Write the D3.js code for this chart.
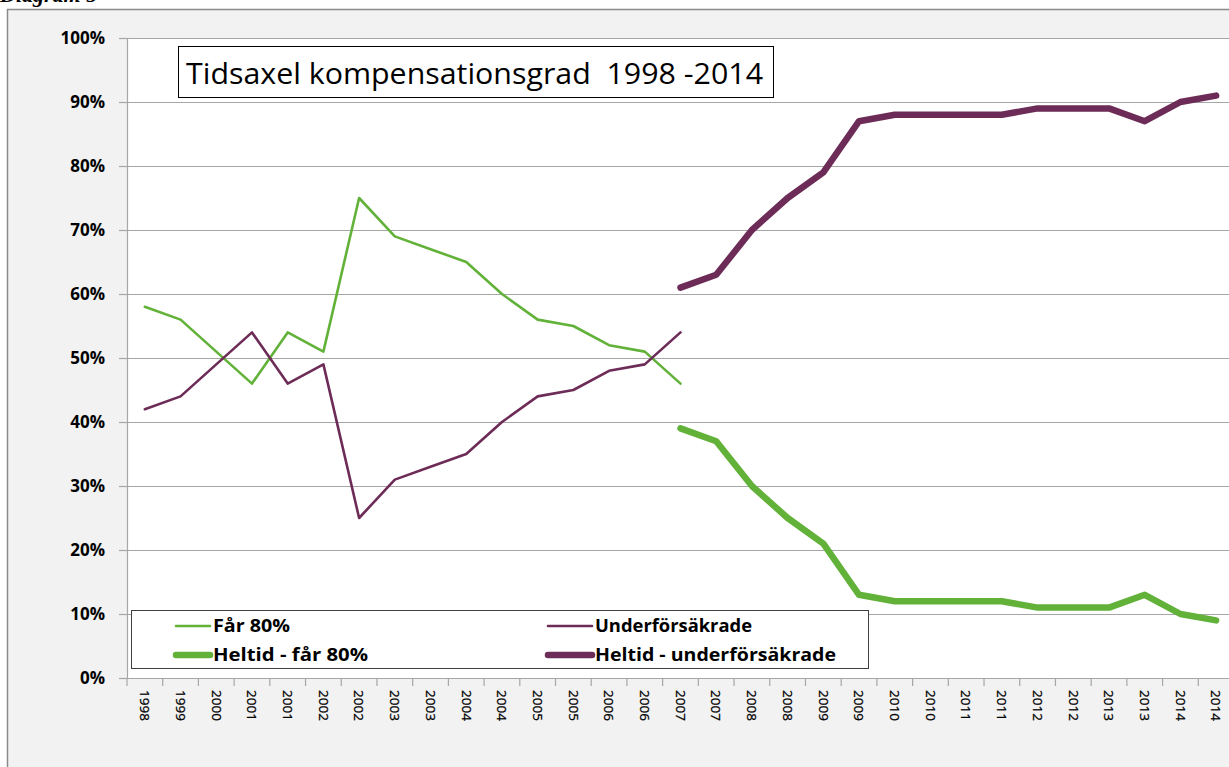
<!DOCTYPE html>
<html>
<head>
<meta charset="utf-8">
<script src="https://cdn.jsdelivr.net/npm/d3@7"></script>
<style>
  html, body { margin: 0; padding: 0; background: #fff; overflow: hidden; }
  svg { display: block; }
</style>
</head>
<body>
<div id="chart"></div>
<script>
// categories on the x axis (half-year points, labelled by year)
const categories = ["1998", "1999", "2000", "2001", "2001", "2002", "2002", "2003", "2003", "2004", "2004",
  "2005", "2005", "2006", "2006", "2007", "2007", "2008", "2008", "2009", "2009", "2010", "2010",
  "2011", "2011", "2012", "2012", "2013", "2013", "2014", "2014"];

const far80 = [58, 56, 51, 46, 54, 51, 75, 69, 67, 65, 60, 56, 55, 52, 51, 46,
  null, null, null, null, null, null, null, null, null, null, null, null, null, null, null];
const underforsakrade = [42, 44, 49, 54, 46, 49, 25, 31, 33, 35, 40, 44, 45, 48, 49, 54,
  null, null, null, null, null, null, null, null, null, null, null, null, null, null, null];
const heltidFar80 = [null, null, null, null, null, null, null, null, null, null, null, null, null, null, null,
  39, 37, 30, 25, 21, 13, 12, 12, 12, 12, 11, 11, 11, 13, 10, 9];
const heltidUnder = [null, null, null, null, null, null, null, null, null, null, null, null, null, null, null,
  61, 63, 70, 75, 79, 87, 88, 88, 88, 88, 89, 89, 89, 87, 90, 91];

const yTicks = [0, 10, 20, 30, 40, 50, 60, 70, 80, 90, 100];
const chartTitle = "Tidsaxel kompensationsgrad  1998 -2014";

const green = "#62b23a";
const purple = "#6d2c57";

const series = [
  { name: "Får 80%", values: far80, color: green, width: 2.6 },
  { name: "Underförsäkrade", values: underforsakrade, color: purple, width: 2.6 },
  { name: "Heltid - får 80%", values: heltidFar80, color: green, width: 6.5 },
  { name: "Heltid - underförsäkrade", values: heltidUnder, color: purple, width: 6.5 }
];

const W = 1229, H = 767;
const plot = { left: 127, right: 1234, top: 38, bottom: 678 };

const svg = d3.select("#chart")
  .append("svg")
  .attr("width", W)
  .attr("height", H);

// outer chart frame (caption above is cut off in the source too)
svg.append("text")
  .attr("x", 0)
  .attr("y", 2)
  .attr("font-family", "Liberation Serif")
  .attr("font-weight", "bold")
  .attr("font-style", "italic")
  .attr("font-size", 22)
  .text("Diagram 5");

svg.append("rect")
  .attr("x", 7.5)
  .attr("y", 9.5)
  .attr("width", W + 20)
  .attr("height", H + 20)
  .attr("fill", "#f2f2f2")
  .attr("stroke", "#8a8a8a")
  .attr("stroke-width", 1.5);

svg.append("rect")
  .attr("x", plot.left)
  .attr("y", plot.top)
  .attr("width", plot.right - plot.left)
  .attr("height", plot.bottom - plot.top)
  .attr("fill", "#fff");

const x = d3.scaleBand()
  .domain(d3.range(categories.length))
  .range([plot.left, plot.right])
  .paddingInner(0)
  .paddingOuter(0);

const y = d3.scaleLinear()
  .domain([0, 100])
  .range([plot.bottom, plot.top]);

// gridlines + y axis
const yAxis = svg.append("g")
  .attr("transform", `translate(${plot.left},0)`)
  .call(d3.axisLeft(y)
    .tickValues(yTicks)
    .tickSize(8)
    .tickPadding(14)
    .tickFormat(d => d + "%"));
yAxis.select(".domain").attr("stroke", "#a6a6a6").attr("stroke-width", 1.2);
yAxis.selectAll(".tick line").attr("stroke", "#a6a6a6").attr("stroke-width", 1.2);
yAxis.selectAll(".tick text")
  .attr("font-family", "Open Sans")
  .attr("font-weight", "bold")
  .attr("font-size", 17)
  .attr("fill", "#000");

svg.append("g")
  .selectAll("line")
  .data(yTicks.filter(d => d > 0))
  .enter()
  .append("line")
  .attr("x1", plot.left)
  .attr("x2", plot.right)
  .attr("y1", d => Math.round(y(d)) + 0.5)
  .attr("y2", d => Math.round(y(d)) + 0.5)
  .attr("stroke", "#a6a6a6")
  .attr("stroke-width", 1.2);

// x axis with ticks on category boundaries
const xAxis = svg.append("g")
  .attr("transform", `translate(0,${plot.bottom})`);

xAxis.append("line")
  .attr("x1", plot.left)
  .attr("x2", plot.right)
  .attr("y1", 0.5)
  .attr("y2", 0.5)
  .attr("stroke", "#a6a6a6")
  .attr("stroke-width", 1.2);

xAxis.selectAll(".xtick")
  .data(d3.range(categories.length + 1))
  .enter()
  .append("line")
  .attr("class", "xtick")
  .attr("x1", i => plot.left + i * x.bandwidth())
  .attr("x2", i => plot.left + i * x.bandwidth())
  .attr("y1", 0)
  .attr("y2", 8)
  .attr("stroke", "#a6a6a6")
  .attr("stroke-width", 1.2);

xAxis.selectAll(".xlabel")
  .data(categories)
  .enter()
  .append("text")
  .attr("class", "xlabel")
  .attr("transform", (d, i) => `translate(${x(i) + x.bandwidth() / 2},12) rotate(90)`)
  .attr("dy", "0.35em")
  .attr("font-family", "Open Sans")
  .attr("font-size", 13.5)
  .attr("fill", "#000")
  .attr("stroke", "#000")
  .attr("stroke-width", 0.25)
  .text(d => d);

// lines
const line = d3.line()
  .defined(d => d != null)
  .x((d, i) => x(i) + x.bandwidth() / 2)
  .y(d => y(d));

svg.append("g")
  .selectAll("path")
  .data(series)
  .enter()
  .append("path")
  .attr("d", s => line(s.values))
  .attr("fill", "none")
  .attr("stroke", s => s.color)
  .attr("stroke-width", s => s.width)
  .attr("stroke-linecap", "round")
  .attr("stroke-linejoin", "round");

// title box
const titleG = svg.append("g");
titleG.append("rect")
  .attr("x", 178.5)
  .attr("y", 46.5)
  .attr("width", 595)
  .attr("height", 51)
  .attr("fill", "#fff")
  .attr("stroke", "#000")
  .attr("stroke-width", 1);
titleG.append("text")
  .attr("x", 186)
  .attr("y", 84)
  .attr("font-family", "Open Sans")
  .attr("font-size", 30)
  .attr("textLength", 577)
  .attr("lengthAdjust", "spacingAndGlyphs")
  .style("white-space", "pre")
  .text(chartTitle);

// legend
const legend = svg.append("g");
legend.append("rect")
  .attr("x", 131.5)
  .attr("y", 610.5)
  .attr("width", 737)
  .attr("height", 58)
  .attr("fill", "#fff")
  .attr("stroke", "#404040")
  .attr("stroke-width", 1);

const legendPos = [
  { x: 176, y: 626 },
  { x: 548, y: 626 },
  { x: 176, y: 655 },
  { x: 548, y: 655 }
];
const legendTextWidth = [77, 157, 155, 241];

const item = legend.selectAll(".item")
  .data(series)
  .enter()
  .append("g")
  .attr("transform", (d, i) => `translate(${legendPos[i].x},${legendPos[i].y})`);

item.append("line")
  .attr("x1", 0)
  .attr("x2", (d, i) => i % 2 === 0 ? 34 : 44)
  .attr("stroke", d => d.color)
  .attr("stroke-width", d => d.width)
  .attr("stroke-linecap", "round");

item.append("text")
  .attr("x", (d, i) => i % 2 === 0 ? 37 : 47)
  .attr("dy", "0.36em")
  .attr("font-family", "Open Sans")
  .attr("font-weight", "bold")
  .attr("font-size", 17.5)
  .attr("textLength", (d, i) => legendTextWidth[i])
  .attr("lengthAdjust", "spacingAndGlyphs")
  .attr("fill", "#000")
  .text(d => d.name);
</script>
</body>
</html>
